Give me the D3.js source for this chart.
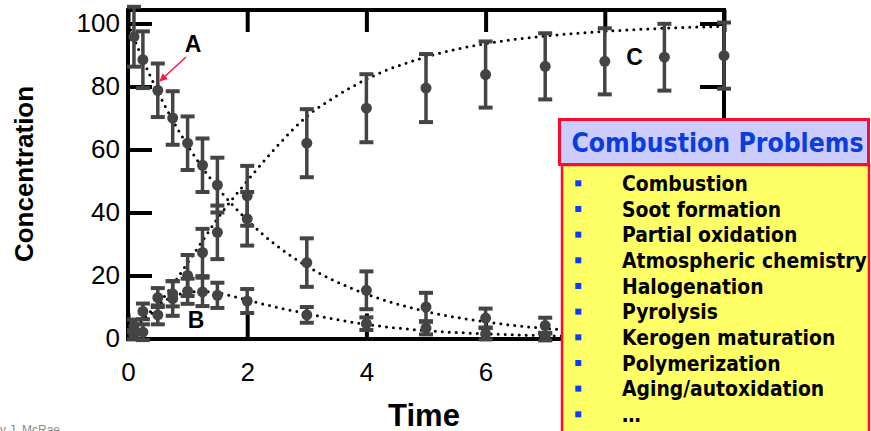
<!DOCTYPE html>
<html><head><meta charset="utf-8">
<script src="https://cdn.jsdelivr.net/npm/d3@7"></script>
<style>
html,body{margin:0;padding:0;background:#fff;overflow:hidden;}
svg{display:block;}
</style></head>
<body>
<svg id="chart" width="871" height="431"></svg>
<script>
// ---- data ----
const timesAB = [0.1, 0.25, 0.5, 0.75, 1, 1.25, 1.5, 2, 3, 4, 5, 6, 7];
const timesC  = [0.1, 0.25, 0.5, 0.75, 1, 1.25, 1.5, 2, 3, 4, 5, 6, 7, 8, 9, 10];
const seriesA = [95.8, 88.5, 78.8, 70, 62, 55, 48.7, 38, 24.1, 15.3, 10, 6.5, 4.1];
const errA    = [9.5, 9, 8.5, 8.5, 8.5, 8.5, 8.7, 8.5, 7.7, 6, 4.5, 3, 2.5];
const seriesB = [4, 8.6, 13, 14.2, 15, 14.8, 13.7, 11.9, 7.5, 4.7, 3.3, 1.5, 0.6];
const errB    = [2, 2.5, 3, 4, 4, 4.5, 4, 3.8, 2.5, 2, 2, 1.8, 1.2];
const seriesC = [1.2, 2, 7.5, 12.7, 20, 27.3, 33.7, 45.3, 62, 73.1, 79.5, 83.8, 86.4, 88, 89.3, 89.8];
const errC    = [1.5, 2.5, 3, 5.5, 6.5, 7.5, 8.5, 9.5, 10.8, 10.8, 10.8, 10.5, 10.5, 10.5, 10.6, 10.5];

const curveT = [0, 0.25, 0.5, 0.75, 1, 1.25, 1.5, 2, 2.5, 3, 3.5, 4, 5, 6, 7, 8, 9, 10];
const curveA = [100, 88.5, 78.3, 69.3, 61.3, 54.2, 48, 37.6, 29.4, 23, 18, 14.1, 8.6, 5.3, 3.2, 2, 1.2, 0.7];
const curveB = [0, 6, 10.5, 13.3, 14.6, 14.9, 14.5, 12.2, 9.9, 7.9, 6, 4.5, 2.5, 1.5, 0.9, 0.5, 0.3, 0.2];
const curveC = [0, 4.5, 10.5, 17, 24, 31, 38, 50, 61, 70.5, 77, 82.3, 89.4, 93.6, 96, 97.5, 98.5, 99.1];

const yTicks = [0, 20, 40, 60, 80, 100];
const xTicks = [0, 2, 4, 6, 8, 10];
const xTickLabels = [0, 2, 4, 6];

const legendTitle = "Combustion Problems";
const legendItems = ["Combustion", "Soot formation", "Partial oxidation", "Atmospheric chemistry",
  "Halogenation", "Pyrolysis", "Kerogen maturation", "Polymerization", "Aging/autoxidation", "\u2026"];

// ---- drawing ----
const svg = d3.select("#chart");
const x = d3.scaleLinear().domain([0, 10]).range([128, 724]);
const y = d3.scaleLinear().domain([0, 100]).range([338.5, 23.5]);
const arial = "'Liberation Sans', Arial, Helvetica, sans-serif";
const markColor = "#444444";

// frame
svg.append("rect").attr("x", x(0)).attr("y", 10).attr("width", x(10) - x(0)).attr("height", y(0) - 10 + 0.5)
  .attr("fill", "none").attr("stroke", "#000").attr("stroke-width", 4);

function styleAxis(g) {
  g.select(".domain").remove();
  g.selectAll(".tick line").attr("stroke", "#000").attr("stroke-width", 4);
  g.selectAll(".tick text").attr("fill", "#000").style("font-family", arial).style("font-size", "26px");
}
svg.append("g").attr("transform", `translate(${x(0)},0)`)
  .call(d3.axisLeft(y).tickValues(yTicks).tickSize(-24).tickPadding(8)).call(styleAxis);
svg.append("g").attr("transform", `translate(${x(10)},0)`)
  .call(d3.axisRight(y).tickValues(yTicks).tickSize(-24).tickFormat("")).call(styleAxis);
svg.append("g").attr("transform", `translate(0,${y(0)})`)
  .call(d3.axisBottom(x).tickValues(xTicks).tickSize(-25).tickPadding(24)
    .tickFormat(d => xTickLabels.includes(d) ? d : "")).call(styleAxis);
svg.append("g").attr("transform", `translate(0,10)`)
  .call(d3.axisTop(x).tickValues(xTicks).tickSize(-22).tickFormat("")).call(styleAxis);

// dotted fit curves
const line = d3.line().x(d => x(d[0])).y(d => y(d[1])).curve(d3.curveMonotoneX);
[curveA, curveB, curveC].forEach(c => {
  svg.append("path").datum(curveT.map((t, i) => [t, c[i]]))
    .attr("d", line).attr("fill", "none").attr("stroke", "#000")
    .attr("stroke-width", 3).attr("stroke-linecap", "round").attr("stroke-dasharray", "0 7");
});

// error bars + points
function drawSeries(ts, vals, errs) {
  const g = svg.append("g");
  const data = ts.map((t, i) => ({t, v: vals[i], e: errs[i]}));
  g.selectAll(".bar").data(data).join("line")
    .attr("x1", d => x(d.t)).attr("x2", d => x(d.t))
    .attr("y1", d => y(d.v + d.e)).attr("y2", d => y(d.v - d.e))
    .attr("stroke", markColor).attr("stroke-width", 3.5);
  ["top", "bot"].forEach(k => {
    g.selectAll(".cap" + k).data(data).join("line")
      .attr("x1", d => x(d.t) - 7).attr("x2", d => x(d.t) + 7)
      .attr("y1", d => y(k === "top" ? d.v + d.e : d.v - d.e))
      .attr("y2", d => y(k === "top" ? d.v + d.e : d.v - d.e))
      .attr("stroke", markColor).attr("stroke-width", 4);
  });
  g.selectAll("circle").data(data).join("circle")
    .attr("cx", d => x(d.t)).attr("cy", d => y(d.v)).attr("r", 5.5).attr("fill", markColor);
}
drawSeries(timesAB, seriesA, errA);
drawSeries(timesAB, seriesB, errB);
drawSeries(timesC, seriesC, errC);

// labels A, B, C
const lab = (t, xx, yy) => svg.append("text").attr("x", xx).attr("y", yy).attr("text-anchor", "middle")
  .style("font-family", arial).style("font-weight", "bold").style("font-size", "23px").text(t);
lab("A", 193, 52); lab("B", 196, 328); lab("C", 634.5, 65);

// red arrow
const defs = svg.append("defs");
defs.append("marker").attr("id", "arr").attr("viewBox", "0 0 10 10").attr("refX", 9).attr("refY", 5)
  .attr("markerWidth", 5).attr("markerHeight", 5).attr("orient", "auto")
  .append("path").attr("d", "M0,0L10,5L0,10z").attr("fill", "#ff1a3c");
svg.append("line").attr("x1", 186).attr("y1", 57).attr("x2", 160).attr("y2", 81)
  .attr("stroke", "#ff1a3c").attr("stroke-width", 1.6).attr("marker-end", "url(#arr)");

// axis titles
svg.append("text").attr("transform", "translate(33,174) rotate(-90)").attr("text-anchor", "middle")
  .style("font-family", arial).style("font-weight", "bold").style("font-size", "26px").text("Concentration");
svg.append("text").attr("x", 424).attr("y", 426).attr("text-anchor", "middle")
  .style("font-family", arial).style("font-weight", "bold").style("font-size", "31px").text("Time");

// credit
svg.append("text").attr("x", -6.7).attr("y", 434).style("font-family", arial).style("font-size", "12px")
  .attr("fill", "#8a8a8a").text("by J. McRae");

// legend box
const lfont = "'DejaVu Sans Condensed', 'DejaVu Sans', Verdana, sans-serif";
svg.append("rect").attr("x", 562).attr("y", 165).attr("width", 307).attr("height", 290)
  .attr("fill", "#ffff66").attr("stroke", "#ff0a2e").attr("stroke-width", 2.5);
svg.append("rect").attr("x", 559.5).attr("y", 119.5).attr("width", 309).attr("height", 45)
  .attr("fill", "#ccccff").attr("stroke", "#ff0a2e").attr("stroke-width", 3);
const title = svg.append("text").attr("x", 571.5).attr("y", 152).attr("fill", "#0a3de0")
  .style("font-family", lfont).style("font-weight", "bold").style("font-size", "24px").text(legendTitle);
const tw = title.node().getComputedTextLength();
title.style("font-size", (24 * 292 / tw).toFixed(2) + "px");

const items = svg.append("g");
items.selectAll("rect").data(legendItems).join("rect")
  .attr("x", 575.3).attr("y", (d, i) => 183.3 + i * 25.67 - 3).attr("width", 6).attr("height", 6)
  .attr("fill", "#0a3cff");
const texts = items.selectAll("text").data(legendItems).join("text")
  .attr("x", 622).attr("y", (d, i) => 191 + i * 25.67)
  .style("font-family", lfont).style("font-weight", "bold").style("font-size", "20px")
  .attr("fill", "#000").text(d => d);
const ref = texts.filter(d => d === "Atmospheric chemistry").node().getComputedTextLength();
texts.style("font-size", (20 * 245 / ref).toFixed(2) + "px");
</script>
</body></html>
